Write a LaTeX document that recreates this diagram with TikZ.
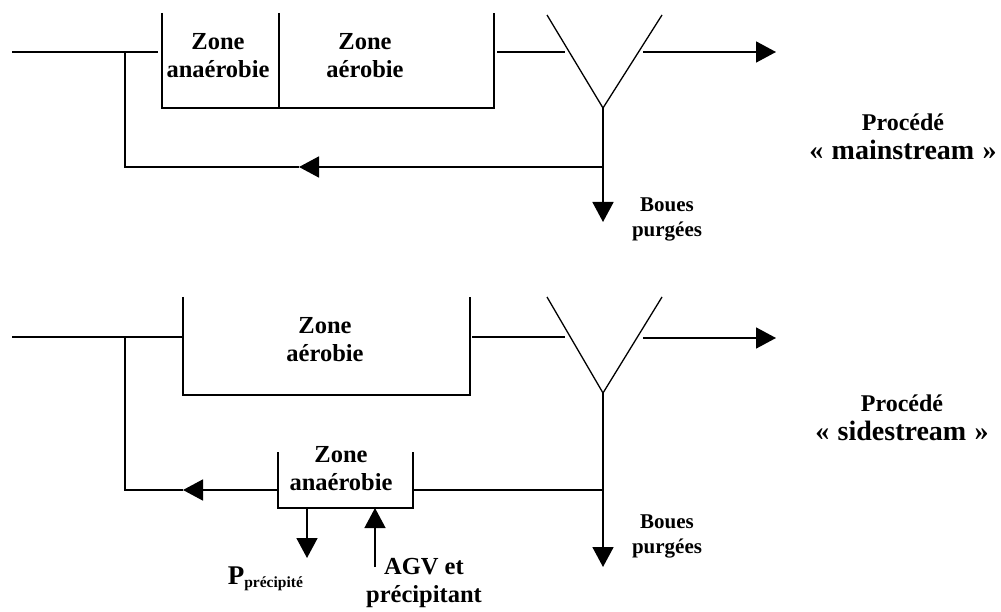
\documentclass[tikz,border=0pt]{standalone}
\usepackage{fontspec}
\setmainfont{Liberation Serif}
\usetikzlibrary{arrows.meta}
\begin{document}
\begin{tikzpicture}[x=1pt,y=-1pt,line width=1.7pt,line join=miter,
  lbl/.style={align=center,inner sep=0pt,font=\fontsize{24.5}{28}\selectfont\bfseries},
  slbl/.style={align=center,inner sep=0pt,font=\fontsize{21}{25}\selectfont\bfseries},
  plbl/.style={align=center,inner sep=0pt,font=\fontsize{24}{29}\selectfont\bfseries},
  arr/.style={-{Triangle[length=20pt,width=21pt]}},
  clar/.style={line width=1.3pt}]
\useasboundingbox (0,0) rectangle (1001,612);
\newcommand{\bigline}[1]{{\fontsize{28}{29}\selectfont «\hspace{0.3em}#1\hspace{0.3em}»}}

% ===== Top: mainstream =====
\coordinate (in1) at (12,52);
\coordinate (j1) at (125,52);
\coordinate (t1l) at (158,52);
\coordinate (t1r) at (497,52);
\coordinate (c1a) at (565,52);
\coordinate (c1b) at (643,52);
\coordinate (o1) at (776,52);
\coordinate (c1bot) at (603,108);
\coordinate (r1) at (603,167);
\coordinate (ra1) at (299,167);
\coordinate (rj1) at (125,167);
\coordinate (w1) at (603,222);

% tank
\draw (162,13) -- (162,108) -- (494,108) -- (494,13);
\draw (279,13) -- (279,108);
% clarifier
\draw[clar] (547,15) -- (c1bot) -- (662,15);

\draw (in1) -- (t1l);
\draw (t1r) -- (c1a);
\draw[arr] (c1b) -- (o1);
\draw[arr] (c1bot) -- (w1);
\draw[arr] (r1) -- (ra1);
\draw (ra1) -- (rj1) -- (j1);

\node[lbl] (za1) at (218,56) {Zone\\ana\'erobie};
\node[lbl] (zb1) at (365,56) {Zone\\a\'erobie};
\node[slbl] (bp1) at (667,219) {Boues\\purg\'ees};
\node[plbl] (pm) at (903,137) {Proc\'ed\'e\\\bigline{mainstream}};

% ===== Bottom: sidestream =====
\coordinate (in2) at (12,337);
\coordinate (j2) at (125,337);
\coordinate (t2l) at (182,337);
\coordinate (t2r) at (472,337);
\coordinate (c2a) at (565,337);
\coordinate (c2b) at (643,338);
\coordinate (o2) at (776,338);
\coordinate (c2bot) at (603,393);
\coordinate (r2) at (603,490);
\coordinate (an2r) at (413,490);
\coordinate (an2l) at (278,490);
\coordinate (ra2) at (183,490);
\coordinate (rj2) at (125,490);
\coordinate (w2) at (603,567);
\coordinate (pa) at (307,508);
\coordinate (pb) at (307,558);
\coordinate (ga) at (375,567);
\coordinate (gb) at (375,508);

% aerobic tank
\draw (183,297) -- (183,395) -- (470,395) -- (470,297);
% anaerobic tank
\draw (278,452) -- (278,508) -- (413,508) -- (413,452);
% clarifier
\draw[clar] (547,297) -- (c2bot) -- (662,297);

\draw (in2) -- (t2l);
\draw (t2r) -- (c2a);
\draw[arr] (c2b) -- (o2);
\draw[arr] (c2bot) -- (w2);
\draw (r2) -- (an2r);
\draw[arr] (an2l) -- (ra2);
\draw (ra2) -- (rj2) -- (j2);
\draw[arr] (pa) -- (pb);
\draw[arr,line width=1.3pt] (ga) -- (gb);

\node[lbl] (zb2) at (325,340) {Zone\\a\'erobie};
\node[lbl] (za2) at (341,469) {Zone\\ana\'erobie};
\node[slbl] (bp2) at (667,536) {Boues\\purg\'ees};
\node[plbl] (ps) at (902,418) {Proc\'ed\'e\\\bigline{sidestream}};
\node[inner sep=0pt,anchor=base west] (pp) at (227,584) {\fontsize{27}{27}\selectfont\bfseries P\raisebox{-3pt}{\fontsize{15.5}{15.5}\selectfont\bfseries pr\'ecipit\'e}};
\node[lbl] (agv) at (424,583) {AGV et\\pr\'ecipitant};
\end{tikzpicture}
\end{document}
